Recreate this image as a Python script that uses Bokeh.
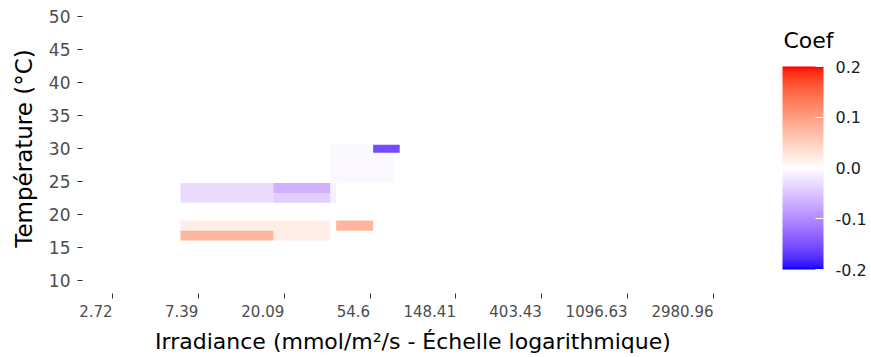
import numpy as np
from bokeh.plotting import figure
from bokeh.models import (Range1d, FixedTicker, CustomJSTickFormatter, ColorBar,
                          LinearColorMapper, PrintfTickFormatter, ColumnDataSource)
from bokeh.transform import linear_cmap
from bokeh.embed import file_html
from bokeh.resources import INLINE

# Irradiance / temperature cells and their fitted coefficients
irr_min = [34.4, 56.6, 6.0, 17.7, 17.7, 34.4, 6.0, 6.0, 36.8]
irr_max = [71.4, 77.1, 17.7, 34.4, 34.4, 36.8, 34.4, 17.7, 56.6]
temp_min = [24.77, 29.35, 21.77, 23.23, 21.77, 21.77, 16.06, 16.06, 17.53]
temp_max = [30.56, 30.56, 24.77, 24.77, 23.23, 24.77, 19.09, 17.53, 19.09]
coef = [-0.006, -0.155, -0.030, -0.066, -0.042, -0.013, 0.018, 0.075, 0.075]

# Axis breaks
irr_tick_exponents = [1, 2, 3, 4, 5, 6, 7, 8]
temp_ticks = [10, 15, 20, 25, 30, 35, 40, 45, 50]
coef_ticks = [-0.2, -0.1, 0.0, 0.1, 0.2]

FONT = "DejaVu Sans"


# --- diverging blue / white / red palette interpolated in CIE Lab ---
def _hex_to_lab(h):
    rgb = np.array([int(h[i:i + 2], 16) for i in (1, 3, 5)]) / 255.0
    lin = np.where(rgb <= 0.04045, rgb / 12.92, ((rgb + 0.055) / 1.055) ** 2.4)
    m = np.array([[0.4124564, 0.3575761, 0.1804375],
                  [0.2126729, 0.7151522, 0.0721750],
                  [0.0193339, 0.1191920, 0.9503041]])
    xyz = m @ lin / np.array([0.95047, 1.0, 1.08883])
    f = np.where(xyz > (6 / 29) ** 3, np.cbrt(xyz), xyz / (3 * (6 / 29) ** 2) + 4 / 29)
    return np.array([116 * f[1] - 16, 500 * (f[0] - f[1]), 200 * (f[1] - f[2])])


def _lab_to_hex(lab):
    L, a, b = lab
    fy = (L + 16) / 116
    fx = fy + a / 500
    fz = fy - b / 200
    f = np.array([fx, fy, fz])
    xyz = np.where(f > 6 / 29, f ** 3, 3 * (6 / 29) ** 2 * (f - 4 / 29))
    xyz = xyz * np.array([0.95047, 1.0, 1.08883])
    m = np.array([[3.2404542, -1.5371385, -0.4985314],
                  [-0.9692660, 1.8760108, 0.0415560],
                  [0.0556434, -0.2040259, 1.0572252]])
    lin = np.clip(m @ xyz, 0, 1)
    rgb = np.where(lin <= 0.0031308, 12.92 * lin, 1.055 * lin ** (1 / 2.4) - 0.055)
    r, g, bb = (np.clip(np.round(rgb * 255), 0, 255)).astype(int)
    return "#%02x%02x%02x" % (r, g, bb)


LOW, MID, HIGH = _hex_to_lab("#0000ff"), _hex_to_lab("#ffffff"), _hex_to_lab("#ff0000")
palette = []
for t in np.linspace(-1, 1, 256):
    end = LOW if t < 0 else HIGH
    palette.append(_lab_to_hex(MID + abs(t) * (end - MID)))

source = ColumnDataSource(dict(left=irr_min, right=irr_max, bottom=temp_min,
                               top=temp_max, coef=coef))

p = figure(frame_width=661, frame_height=290,
           x_axis_type="log",
           x_range=Range1d(np.exp(0.65), np.exp(8.35)),
           y_range=Range1d(8, 52),
           min_border_left=82, min_border_right=128,
           min_border_top=3, min_border_bottom=64,
           output_backend="svg", toolbar_location=None)

p.quad(left="left", right="right", bottom="bottom", top="top", source=source,
       fill_color=linear_cmap("coef", palette, -0.2, 0.2), line_color=None)

p.outline_line_color = None
p.grid.visible = False
p.background_fill_color = "white"
p.border_fill_color = "white"

for ax in (p.xaxis[0], p.yaxis[0]):
    ax.axis_line_color = None
    ax.major_tick_line_color = "#333333"
    ax.major_tick_out = 5
    ax.major_tick_in = 0
    ax.minor_tick_line_color = None
    ax.major_label_text_font = FONT
    ax.major_label_text_color = "#4d4d4d"
    ax.axis_label_text_font = FONT
    ax.axis_label_text_font_style = "normal"
    ax.axis_label_text_color = "black"

# Labels sit to the left of their tick: the value is padded on the right with
# no-break spaces of the same advance width, so the centred string ends at the tick.
p.xaxis.ticker = FixedTicker(ticks=[float(np.exp(k)) for k in irr_tick_exponents])
p.xaxis.formatter = CustomJSTickFormatter(code="""
    const s = (Math.round(tick * 100) / 100).toString();
    let pad = '';
    for (const c of s) pad += (c === '.') ? '\\u00a0' : '\\u00a0\\u00a0';
    return s + pad;
""")
p.xaxis.major_label_text_font_size = "15px"
p.xaxis.major_label_standoff = 4
p.xaxis.axis_label = "Irradiance (mmol/m²/s - Échelle logarithmique)"
p.xaxis.axis_label_text_font_size = "22px"
p.xaxis.axis_label_standoff = 5

p.yaxis.ticker = FixedTicker(ticks=temp_ticks)
p.yaxis.major_label_text_font_size = "17px"
p.yaxis.major_label_standoff = 7
p.yaxis.axis_label = "Température (°C)"
p.yaxis.axis_label_text_font_size = "23px"
p.yaxis.axis_label_standoff = 9

mapper = LinearColorMapper(palette=palette, low=-0.2, high=0.2)
color_bar = ColorBar(color_mapper=mapper,
                     ticker=FixedTicker(ticks=coef_ticks),
                     formatter=PrintfTickFormatter(format="%.1f"),
                     width=41, height=203,
                     major_label_text_font=FONT, major_label_text_font_size="16px",
                     major_label_text_color="#1a1a1a",
                     label_standoff=12,
                     major_tick_line_color="white", major_tick_in=8, major_tick_out=0,
                     minor_tick_line_color=None,
                     bar_line_color=None, border_line_color=None,
                     background_fill_color=None,
                     padding=0, margin=0, location=(700, 24))
p.add_layout(color_bar)

# Legend heading: a horizontal, fully transparent bar whose title sits above it
heading = ColorBar(color_mapper=mapper, orientation="horizontal",
                   ticker=FixedTicker(ticks=[]),
                   width=55, height=1, scale_alpha=0,
                   title="Coef", title_text_font=FONT, title_text_font_size="22px",
                   title_text_font_style="normal", title_text_color="black",
                   title_standoff=0,
                   major_label_text_alpha=0,
                   major_tick_line_color=None, minor_tick_line_color=None,
                   bar_line_color=None, border_line_color=None,
                   background_fill_color=None,
                   padding=0, margin=0, location=(701, 240))
p.add_layout(heading)

open("out.html", "w").write(file_html(p, INLINE))
